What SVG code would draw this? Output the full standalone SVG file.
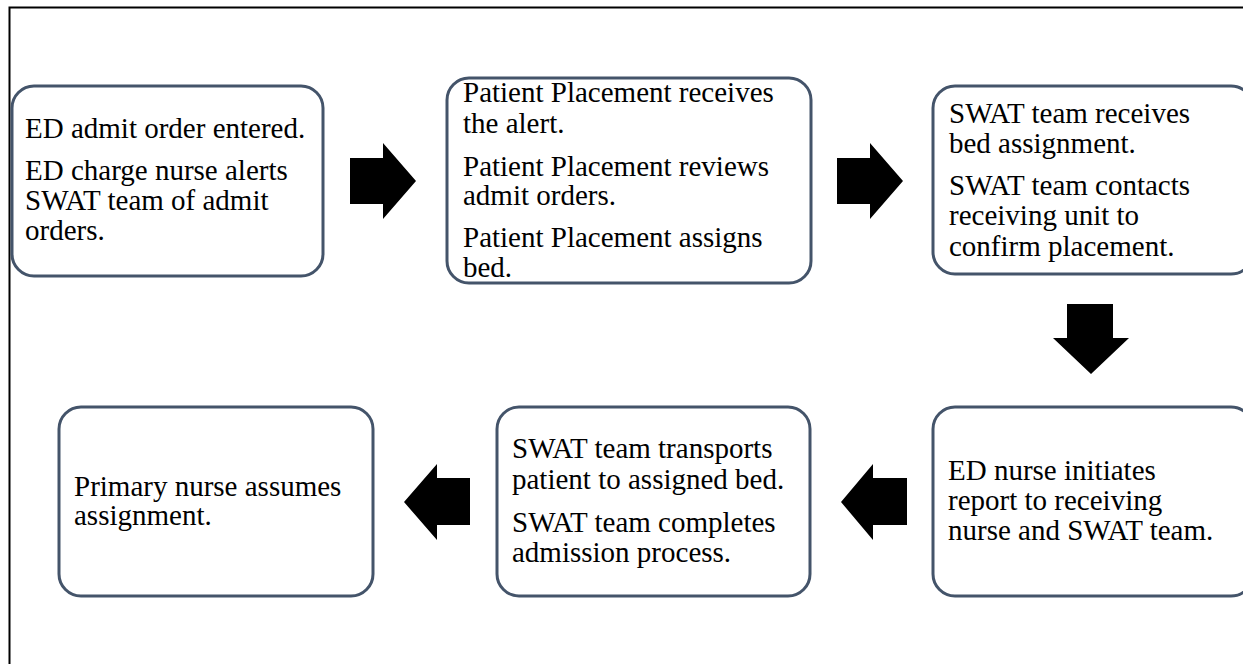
<svg xmlns="http://www.w3.org/2000/svg" width="1243" height="664" viewBox="0 0 1243 664">
<style>
.box{fill:#fff;stroke:#44546A;stroke-width:3}
.t{font-family:'Liberation Serif',Tinos,'Nimbus Roman','DejaVu Serif',serif;font-size:29px;fill:#000}
.arr{fill:#000}
.frame{stroke:#000;stroke-width:2;fill:none}
</style>
<rect width="1243" height="664" fill="#fff"/>
<path class="frame" d="M9.5 664 V7.5 H1243"/>
<g id="connectors">
<polygon class="arr" points="350,158 383,158 383,143 416,181 383,219 383,204 350,204"/>
<polygon class="arr" points="837,158 870,158 870,143 903,181 870,219 870,204 837,204"/>
<polygon class="arr" points="1067,304 1113,304 1113,338 1129,338 1091,374 1053,338 1067,338"/>
<polygon class="arr" points="907,478 873,478 873,464 841,502 873,540 873,525 907,525"/>
<polygon class="arr" points="470,478 437,478 437,464 404,502 437,540 437,525 470,525"/>
</g>
<g id="node1">
<rect class="box" x="12" y="86" width="311" height="190" rx="22"/>
<text class="t" x="25" y="138">ED admit order entered.</text>
<text class="t" x="25" y="180">ED charge nurse alerts</text>
<text class="t" x="25" y="210">SWAT team of admit</text>
<text class="t" x="25" y="240">orders.</text>
</g>
<g id="node2">
<rect class="box" x="447" y="78" width="364" height="205" rx="22"/>
<text class="t" x="463" y="102">Patient Placement receives</text>
<text class="t" x="463" y="133">the alert.</text>
<text class="t" x="463" y="176">Patient Placement reviews</text>
<text class="t" x="463" y="205">admit orders.</text>
<text class="t" x="463" y="247">Patient Placement assigns</text>
<text class="t" x="463" y="277">bed.</text>
</g>
<g id="node3">
<rect class="box" x="933" y="86" width="320" height="188" rx="22"/>
<text class="t" x="949" y="123">SWAT team receives</text>
<text class="t" x="949" y="153">bed assignment.</text>
<text class="t" x="949" y="195">SWAT team contacts</text>
<text class="t" x="949" y="225">receiving unit to</text>
<text class="t" x="949" y="256">confirm placement.</text>
</g>
<g id="node4">
<rect class="box" x="59" y="407" width="314" height="189" rx="22"/>
<text class="t" x="74" y="496">Primary nurse assumes</text>
<text class="t" x="74" y="525">assignment.</text>
</g>
<g id="node5">
<rect class="box" x="497" y="407" width="313" height="189" rx="22"/>
<text class="t" x="512" y="458">SWAT team transports</text>
<text class="t" x="512" y="489">patient to assigned bed.</text>
<text class="t" x="512" y="532">SWAT team completes</text>
<text class="t" x="512" y="562">admission process.</text>
</g>
<g id="node6">
<rect class="box" x="933" y="407" width="320" height="189" rx="22"/>
<text class="t" x="948" y="480">ED nurse initiates</text>
<text class="t" x="948" y="510">report to receiving</text>
<text class="t" x="948" y="540">nurse and SWAT team.</text>
</g>
</svg>
